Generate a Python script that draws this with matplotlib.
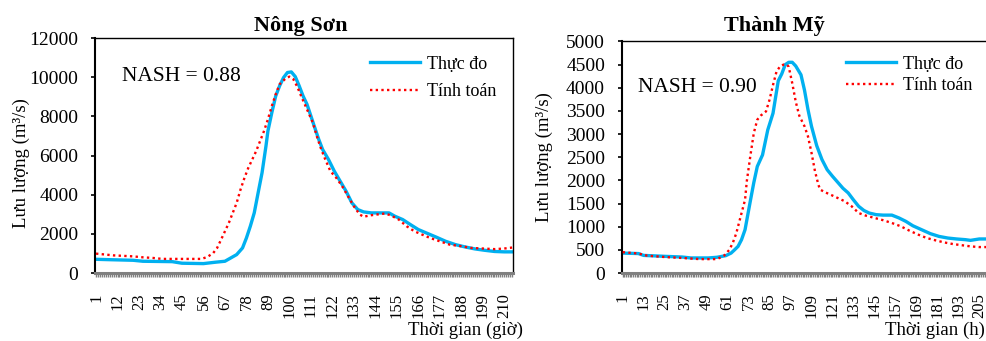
import matplotlib
matplotlib.use("Agg")
import matplotlib.pyplot as plt
from matplotlib.ticker import MultipleLocator, FixedLocator

plt.rcParams['font.family'] = ['Liberation Serif', 'DejaVu Serif']

# Nong Son: observed (Thuc do) and computed (Tinh toan) discharge, m3/s
ns_obs_h = [1, 8, 20, 25, 40, 45, 56, 62, 67, 70, 73, 76, 78, 80, 82, 84, 86, 88, 89, 91,
            93, 95, 97, 99, 101, 103, 105, 107, 109, 111, 113, 115, 117, 120, 123, 126, 129,
            132, 135, 138, 142, 147, 151, 154, 158, 162, 166, 170, 175, 180, 185, 190, 195,
            200, 205, 210, 214]
ns_obs_q = [700, 680, 650, 600, 580, 500, 480, 550, 600, 770, 940, 1280, 1790, 2390, 3070,
            4100, 5120, 6480, 7250, 8190, 9040, 9560, 9980, 10240, 10270, 10030, 9560, 9040,
            8620, 8020, 7420, 6830, 6310, 5800, 5200, 4690, 4180, 3580, 3240, 3120, 3070,
            3070, 3070, 2900, 2730, 2470, 2220, 2050, 1840, 1620, 1450, 1330, 1230, 1160,
            1100, 1080, 1080]
ns_sim_h = [1, 10, 20, 25, 30, 35, 45, 55, 58, 61, 63, 65, 67, 69, 71, 73, 75, 77, 79, 81,
            83, 85, 87, 89, 91, 93, 95, 98, 100, 102, 104, 106, 109, 112, 114, 116, 118, 121,
            124, 127, 130, 133, 136, 138, 141, 145, 149, 152, 156, 160, 164, 168, 172, 177,
            182, 188, 193, 199, 205, 210, 214]
ns_sim_q = [990, 900, 850, 800, 770, 720, 720, 720, 820, 1020, 1280, 1700, 2130, 2560, 3070,
            3580, 4270, 4860, 5380, 5800, 6230, 6740, 7250, 7850, 8530, 9130, 9640, 9930,
            10030, 9900, 9520, 9040, 8360, 7680, 7000, 6400, 5890, 5200, 4860, 4440, 3920,
            3410, 2990, 2870, 2940, 2990, 3040, 2940, 2730, 2390, 2130, 1960, 1790, 1620,
            1450, 1370, 1280, 1250, 1220, 1250, 1300]

# Thanh My
tm_obs_h = [1, 10, 13, 25, 35, 40, 50, 55, 60, 63, 65, 67, 69, 71, 74, 76, 78, 81, 84, 87,
            90, 92, 94, 96, 98, 100, 103, 105, 107, 109, 112, 115, 118, 121, 124, 127, 130,
            133, 136, 139, 142, 146, 150, 155, 159, 163, 167, 172, 177, 182, 187, 192, 197,
            200, 205, 212]
tm_obs_q = [430, 420, 380, 360, 345, 325, 325, 340, 375, 430, 500, 575, 720, 935, 1550,
            1950, 2300, 2550, 3090, 3450, 4150, 4300, 4500, 4550, 4550, 4470, 4280, 3950,
            3530, 3170, 2750, 2450, 2230, 2090, 1960, 1830, 1730, 1580, 1440, 1350, 1295,
            1260, 1250, 1250, 1190, 1115, 1020, 935, 850, 790, 755, 735, 720, 705, 735, 735]
tm_sim_h = [1, 10, 15, 25, 35, 45, 55, 59, 62, 64, 66, 69, 71, 72, 74, 76, 78, 80, 83, 85,
            87, 89, 91, 93, 95, 96, 98, 100, 102, 105, 107, 109, 111, 113, 114, 117, 120,
            124, 128, 132, 136, 140, 145, 150, 155, 160, 165, 170, 175, 180, 185, 190, 195,
            200, 205, 212]
tm_sim_q = [450, 420, 375, 345, 325, 300, 300, 375, 500, 650, 860, 1295, 1580, 1980, 2520,
            3020, 3310, 3400, 3490, 3740, 4060, 4350, 4460, 4500, 4500, 4450, 4100, 3700,
            3400, 3170, 2950, 2600, 2200, 1900, 1800, 1740, 1690, 1620, 1550, 1440, 1295,
            1240, 1190, 1140, 1080, 1010, 915, 830, 755, 705, 660, 625, 600, 575, 560, 560]

ns_ticks = [1, 12, 23, 34, 45, 56, 67, 78, 89, 100, 111, 122, 133, 144, 155, 166, 177, 188, 199, 210]
tm_ticks = [1, 13, 25, 37, 49, 61, 73, 85, 97, 109, 121, 133, 145, 157, 169, 181, 193, 205]

blue = '#00B0F0'
red = '#FF0000'
gray = '#808080'
dots = (0, (1.0, 1.4))

fig = plt.figure(figsize=(9.87, 3.41), dpi=100)
ax1 = fig.add_axes([0.0963, 0.1994, 0.4235, 0.689])
ax2 = fig.add_axes([0.630, 0.1994, 0.379, 0.679])


def style(ax, ticks, ymax, ystep):
    ax.set_xlim(0.5, 214.5)
    ax.set_ylim(0, ymax)
    ax.yaxis.set_major_locator(MultipleLocator(ystep))
    ax.xaxis.set_major_locator(FixedLocator(ticks))
    ax.xaxis.set_minor_locator(MultipleLocator(1))
    ax.tick_params(axis='x', which='both', direction='out', length=3, width=1,
                   color=gray, labelsize=12, labelrotation=90, pad=11.5)
    ax.tick_params(axis='y', direction='out', length=3.1, width=1.2, labelsize=14, pad=9)
    for s in ['left', 'top', 'right']:
        ax.spines[s].set_color('black')
    ax.spines['left'].set_linewidth(1.5)
    ax.spines['top'].set_linewidth(1.0)
    ax.spines['right'].set_linewidth(1.0)
    ax.spines['bottom'].set_color(gray)
    ax.spines['bottom'].set_linewidth(2.2)


ax1.plot(ns_obs_h, ns_obs_q, color=blue, lw=2.4, label='Thực đo', zorder=2)
ax1.plot(ns_sim_h, ns_sim_q, color=red, lw=1.7, linestyle=dots,
         dash_capstyle='butt', label='Tính toán', zorder=3)
style(ax1, ns_ticks, 12000, 2000)

ax2.plot(tm_obs_h, tm_obs_q, color=blue, lw=2.4, label='Thực đo', zorder=2)
ax2.plot(tm_sim_h, tm_sim_q, color=red, lw=1.7, linestyle=dots,
         dash_capstyle='butt', label='Tính toán', zorder=3)
style(ax2, tm_ticks, 5000, 500)

ax1.legend(loc='upper left', bbox_to_anchor=(0.375, 0.837), bbox_transform=fig.transFigure,
           frameon=False, fontsize=13, borderpad=0, borderaxespad=0, handlelength=2.77,
           handletextpad=0.4, labelspacing=0.6)
ax2.legend(loc='upper left', bbox_to_anchor=(0.857, 0.837), bbox_transform=fig.transFigure,
           frameon=False, fontsize=13, borderpad=0, borderaxespad=0, handlelength=2.77,
           handletextpad=0.4, labelspacing=0.25)

fig.text(0.1236, 0.7625, 'NASH = 0.88', fontsize=15.5, va='baseline')
fig.text(0.646, 0.730, 'NASH = 0.90', fontsize=15.5, va='baseline')

fig.text(0.305, 0.909, 'Nông Sơn', fontsize=16, fontweight='bold', ha='center', va='baseline')
fig.text(0.785, 0.909, 'Thành Mỹ', fontsize=16, fontweight='bold', ha='center', va='baseline')

fig.text(0.530, 0.0176, 'Thời gian (giờ)', fontsize=13.5, ha='right', va='baseline')
fig.text(0.998, 0.0176, 'Thời gian (h)', fontsize=13.5, ha='right', va='baseline')

fig.text(0.0213, 0.522, 'Lưu lượng (m³/s)', fontsize=13.5, rotation=90, ha='center', va='center')
fig.text(0.552, 0.540, 'Lưu lượng (m³/s)', fontsize=13.5, rotation=90, ha='center', va='center')

fig.savefig('out.png', dpi=100)
